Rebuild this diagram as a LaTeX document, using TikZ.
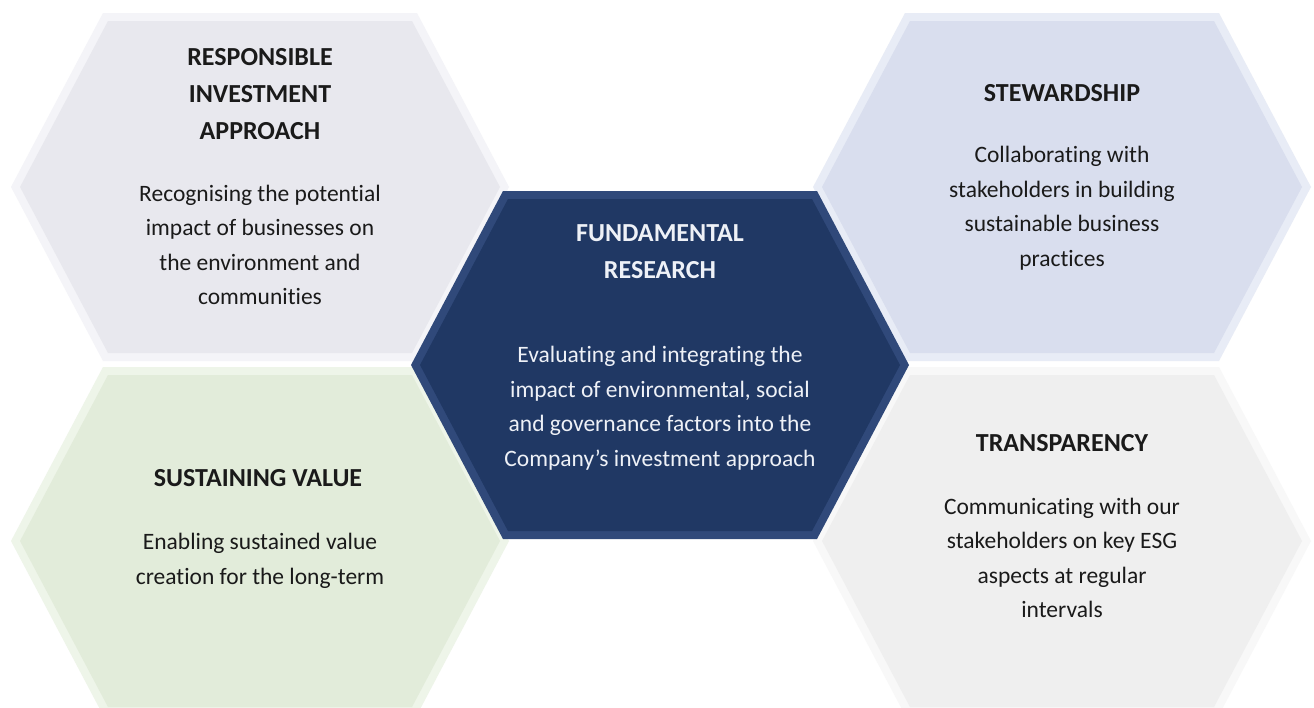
\documentclass[tikz,border=0pt]{standalone}
\usepackage{fontspec}
\setmainfont[Ligatures=NoCommon]{Carlito}
\definecolor{tlout}{HTML}{F4F4F8}
\definecolor{tlin}{HTML}{E8E8EE}
\definecolor{trout}{HTML}{E8ECF6}
\definecolor{trin}{HTML}{D9DEEE}
\definecolor{blout}{HTML}{EEF5E9}
\definecolor{blin}{HTML}{E2ECDA}
\definecolor{brout}{HTML}{F8F8F8}
\definecolor{brin}{HTML}{EFEFEF}
\definecolor{cout}{HTML}{30497A}
\definecolor{cin}{HTML}{203864}
\definecolor{darktxt}{HTML}{1A1A1A}
\definecolor{lighttxt}{HTML}{EEF1F7}
\newcommand\myhex[4]{%
  \fill[#3] ({#1-249},{#2}) -- ({#1-157},{#2-174}) -- ({#1+157},{#2-174}) -- ({#1+249},{#2}) -- ({#1+157},{#2+174}) -- ({#1-157},{#2+174}) -- cycle;
  \fill[#4] ({#1-240},{#2}) -- ({#1-152},{#2-166}) -- ({#1+152},{#2-166}) -- ({#1+240},{#2}) -- ({#1+152},{#2+166}) -- ({#1-152},{#2+166}) -- cycle;
}
\tikzset{
  ttl/.style={font=\fontsize{26}{37}\selectfont\bfseries, align=center, inner sep=0pt, text=darktxt},
  bdy/.style={font=\fontsize{23.5}{34.5}\selectfont, align=center, inner sep=0pt, text=darktxt},
}
\begin{document}
\begin{tikzpicture}[x=1pt,y=-1pt]
\useasboundingbox (0,0) rectangle (1314,707);
\fill[white] (0,0) rectangle (1314,707);
\myhex{260}{187}{tlout}{tlin}
\myhex{1062}{187}{trout}{trin}
\myhex{260}{541}{blout}{blin}
\myhex{1062}{541}{brout}{brin}
\myhex{660}{365}{cout}{cin}
\node[ttl] (tlt) at (260,94) {RESPONSIBLE\\INVESTMENT\\APPROACH};
\node[bdy] (tlb) at (260,245) {Recognising the potential\\impact of businesses on\\the environment and\\communities};
\node[ttl] (trt) at (1062,93) {STEWARDSHIP};
\node[bdy] (trb) at (1062,208) {Collaborating with\\stakeholders in building\\sustainable business\\practices};
\node[ttl, text=lighttxt] (ct) at (660,252) {FUNDAMENTAL\\RESEARCH};
\node[bdy, text=lighttxt] (cb) at (660,408) {Evaluating and integrating the\\impact of environmental, social\\and governance factors into the\\Company’s investment approach};
\node[ttl] (blt) at (258,478) {SUSTAINING VALUE};
\node[bdy] (blb) at (260,561) {Enabling sustained value\\creation for the long-term};
\node[ttl] (brt) at (1062,443) {TRANSPARENCY};
\node[bdy] (brb) at (1062,558) {Communicating with our\\stakeholders on key ESG\\aspects at regular\\intervals};
\end{tikzpicture}
\end{document}
